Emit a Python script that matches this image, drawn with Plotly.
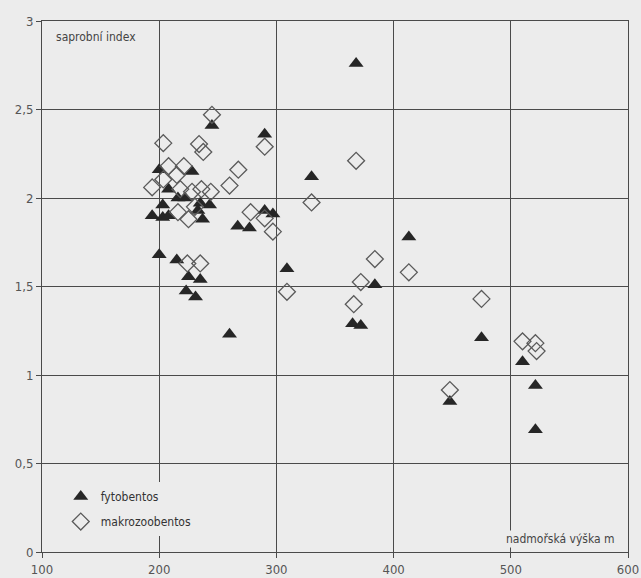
import plotly.graph_objects as go

# fytobentos (triangles): altitude [m], saprobic index
fyto_x = [245, 290, 200, 228, 208, 216, 222, 203, 235, 243, 233, 194, 203, 208, 237,
          290, 297, 267, 277, 368, 330, 413, 309, 384, 365, 372, 200, 215, 225, 235,
          223, 231, 260, 475, 510, 448, 521, 521]
fyto_y = [2.41, 2.36, 2.16, 2.15, 2.05, 2.00, 2.00, 1.96, 1.97, 1.96, 1.93, 1.90, 1.89, 1.90, 1.88,
          1.93, 1.91, 1.84, 1.83, 2.76, 2.12, 1.78, 1.60, 1.51, 1.29, 1.28, 1.68, 1.65, 1.555, 1.54,
          1.475, 1.44, 1.23, 1.21, 1.075, 0.85, 0.94, 0.69]

# makrozoobentos (diamonds)
makro_x = [245, 290, 203.5, 234, 237.6, 208, 221, 215, 267.5, 203.5, 194, 218, 260, 228, 236,
           244, 230.5, 216, 278, 225, 290, 368, 330, 297, 384, 413, 309, 372, 366, 224,
           235, 510, 521, 522, 448, 475]
makro_y = [2.47, 2.29, 2.31, 2.305, 2.26, 2.18, 2.18, 2.13, 2.16, 2.105, 2.06, 2.05, 2.07, 2.035, 2.05,
           2.035, 1.95, 1.92, 1.92, 1.88, 1.885, 2.21, 1.975, 1.81, 1.655, 1.58, 1.47, 1.525, 1.40, 1.63,
           1.63, 1.19, 1.18, 1.135, 0.915, 1.43]

x_ticks = [100, 200, 300, 400, 500, 600]
y_ticks = [0, 0.5, 1, 1.5, 2, 2.5, 3]
y_ticktext = ["0", "0,5", "1", "1,5", "2", "2,5", "3"]

BG = "#ececec"
LINE = "#4a4a4a"
FONT = "DejaVu Sans Condensed, Roboto, sans-serif"

fig = go.Figure()
fig.add_trace(go.Scatter(
    x=fyto_x, y=fyto_y, mode="markers", name="fytobentos", legendgroup="f",
    marker=dict(symbol="triangle-up", size=13, color="#262626", line=dict(width=0))))
fig.add_trace(go.Scatter(
    x=makro_x, y=makro_y, mode="markers", name="makrozoobentos", legendgroup="m",
    marker=dict(symbol="diamond-open", size=13, color="#5a5a5a", line=dict(width=1.3))))

fig.update_layout(
    width=641, height=578,
    margin=dict(l=42, r=13, t=21, b=26),
    paper_bgcolor=BG, plot_bgcolor=BG,
    font=dict(family=FONT, size=12, color="#444"),
    showlegend=True,
    legend=dict(x=0.032, y=0.03, xanchor="left", yanchor="bottom",
                bgcolor=BG, font=dict(size=12, color="#333"),
                itemwidth=30, tracegroupgap=6),
    annotations=[
        dict(text="saprobní index", xref="paper", yref="paper", x=0.02, y=0.97,
             xanchor="left", yanchor="middle", showarrow=False,
             font=dict(size=12, color="#444")),
        dict(text="nadmořská výška m", xref="paper", yref="paper", x=0.981, y=0.024,
             xanchor="right", yanchor="middle", showarrow=False, bgcolor=BG,
             font=dict(size=12, color="#444")),
    ],
)
fig.update_xaxes(
    range=[100, 600], tickvals=x_ticks, showgrid=True, gridcolor=LINE, gridwidth=1,
    showline=True, linecolor=LINE, linewidth=1, mirror=True, zeroline=False, automargin=False,
    ticks="outside", ticklen=5, tickcolor=LINE, tickfont=dict(size=13, color="#555"))
fig.update_yaxes(
    range=[0, 3], tickvals=y_ticks, ticktext=y_ticktext, showgrid=True, gridcolor=LINE, gridwidth=1,
    showline=True, linecolor=LINE, linewidth=1, mirror=True, zeroline=False, automargin=False,
    ticks="outside", ticklen=5, tickcolor=LINE, tickfont=dict(size=13, color="#555"))

fig.write_html(
    "out.html",
    config={"displayModeBar": False},
    post_script="document.body.style.margin='0';document.body.style.background='#ececec';",
)
